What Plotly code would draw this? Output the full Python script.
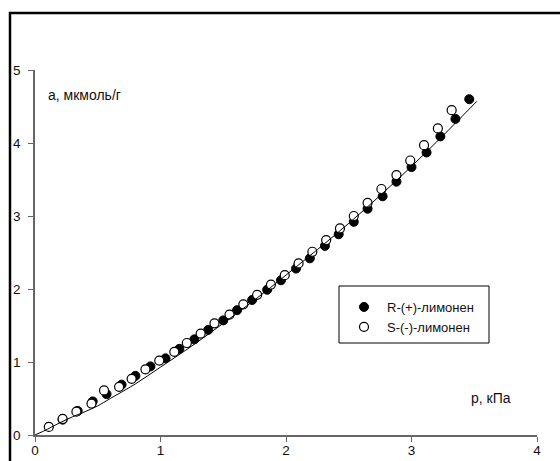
import plotly.graph_objects as go

# R-(+)-limonene adsorption points
p_r = [0.22, 0.34, 0.46, 0.57, 0.69, 0.80, 0.92, 1.04, 1.15, 1.27, 1.38, 1.50, 1.61,
       1.73, 1.85, 1.96, 2.08, 2.19, 2.31, 2.42, 2.54, 2.65, 2.77, 2.88, 3.00, 3.12,
       3.23, 3.35, 3.46]
a_r = [0.21, 0.33, 0.46, 0.56, 0.69, 0.81, 0.94, 1.05, 1.18, 1.31, 1.44, 1.57, 1.71,
       1.85, 1.99, 2.12, 2.28, 2.42, 2.59, 2.75, 2.92, 3.10, 3.27, 3.47, 3.67, 3.87,
       4.09, 4.33, 4.60]

# S-(-)-limonene adsorption points
p_s = [0.11, 0.22, 0.33, 0.45, 0.55, 0.67, 0.77, 0.88, 0.99, 1.11, 1.21, 1.32, 1.43,
       1.55, 1.66, 1.77, 1.88, 1.99, 2.10, 2.21, 2.32, 2.43, 2.54, 2.65, 2.76, 2.88,
       2.99, 3.10, 3.21, 3.32]
a_s = [0.11, 0.22, 0.32, 0.43, 0.61, 0.66, 0.77, 0.90, 1.02, 1.14, 1.26, 1.39, 1.53,
       1.65, 1.79, 1.92, 2.06, 2.19, 2.35, 2.51, 2.67, 2.83, 3.00, 3.18, 3.37, 3.56,
       3.76, 3.97, 4.20, 4.45]

# Fitted isotherm
p_fit = [0.0, 0.1, 0.2, 0.3, 0.4, 0.5, 0.6, 0.8, 1.0, 1.25, 1.5, 1.75, 2.0, 2.25,
         2.5, 2.75, 3.0, 3.25, 3.52]
a_fit = [0.0, 0.08, 0.17, 0.25, 0.32, 0.40, 0.50, 0.70, 0.93, 1.22, 1.53, 1.85, 2.19,
         2.54, 2.90, 3.28, 3.68, 4.10, 4.57]

x_ticks = [0, 1, 2, 3, 4]
y_ticks = [0, 1, 2, 3, 4, 5]

FONT = "Liberation Sans, Arial, sans-serif"

fig = go.Figure()
fig.add_trace(go.Scatter(
    x=p_r, y=a_r, mode="markers", name="R-(+)-лимонен",
    marker=dict(symbol="circle", size=9, color="black",
                line=dict(color="black", width=1)),
))
fig.add_trace(go.Scatter(
    x=p_s, y=a_s, mode="markers", name="S-(-)-лимонен",
    marker=dict(symbol="circle", size=9, color="white",
                line=dict(color="black", width=1.2)),
))
fig.add_trace(go.Scatter(
    x=p_fit, y=a_fit, mode="lines", showlegend=False,
    line=dict(color="black", width=1, shape="spline"),
))

W, H = 560, 461
L, R, T, B = 35, 23, 70, 26
pw, ph = W - L - R, H - T - B


def px_to_paper(xp, yp):
    return (xp - L) / pw, (H - B - yp) / ph


bx0, by0 = px_to_paper(10, 13)
bx1, by1 = px_to_paper(575, 480)
lx0, ly0 = px_to_paper(339, 286)
lx1, ly1 = px_to_paper(489, 343)
ax_y_x, ax_y_y = px_to_paper(46, 95)
ax_x_x, ax_x_y = px_to_paper(513, 398)
leg_x, leg_y = px_to_paper(341, 292)

axis_common = dict(
    showgrid=False, zeroline=False, showline=True, linecolor="#666666",
    linewidth=1.5, ticks="outside", ticklen=5, tickwidth=1.2,
    tickcolor="#666666", tickfont=dict(family=FONT, size=13.5, color="#111111"),
    automargin=False, mirror=False,
)

fig.update_layout(
    width=W, height=H,
    margin=dict(l=L, r=R, t=T, b=B, pad=0),
    paper_bgcolor="white", plot_bgcolor="white",
    xaxis=dict(range=[0, 4], tickvals=x_ticks, ticklabelstandoff=-3, **axis_common),
    yaxis=dict(range=[0, 5], tickvals=y_ticks, ticklabelstandoff=5, **axis_common),
    showlegend=True,
    legend=dict(
        x=leg_x, y=leg_y, xanchor="left", yanchor="top",
        bgcolor="rgba(0,0,0,0)", borderwidth=0,
        font=dict(family=FONT, size=13, color="#111111"),
        itemwidth=36, tracegroupgap=0,
    ),
    shapes=[
        dict(type="rect", xref="paper", yref="paper", x0=bx0, y0=by1, x1=bx1, y1=by0,
             line=dict(color="black", width=2.5), fillcolor="rgba(0,0,0,0)", layer="above"),
        dict(type="rect", xref="paper", yref="paper", x0=lx0, y0=ly1, x1=lx1, y1=ly0,
             line=dict(color="black", width=1), fillcolor="rgba(0,0,0,0)", layer="above"),
    ],
    annotations=[
        dict(text="а, мкмоль/г", xref="paper", yref="paper", x=ax_y_x, y=ax_y_y,
             xanchor="left", yanchor="middle", showarrow=False,
             font=dict(family=FONT, size=14, color="#111111")),
        dict(text="р, кПа", xref="paper", yref="paper", x=ax_x_x, y=ax_x_y,
             xanchor="right", yanchor="middle", showarrow=False,
             font=dict(family=FONT, size=14, color="#111111")),
    ],
)

fig.write_html("out.html")
